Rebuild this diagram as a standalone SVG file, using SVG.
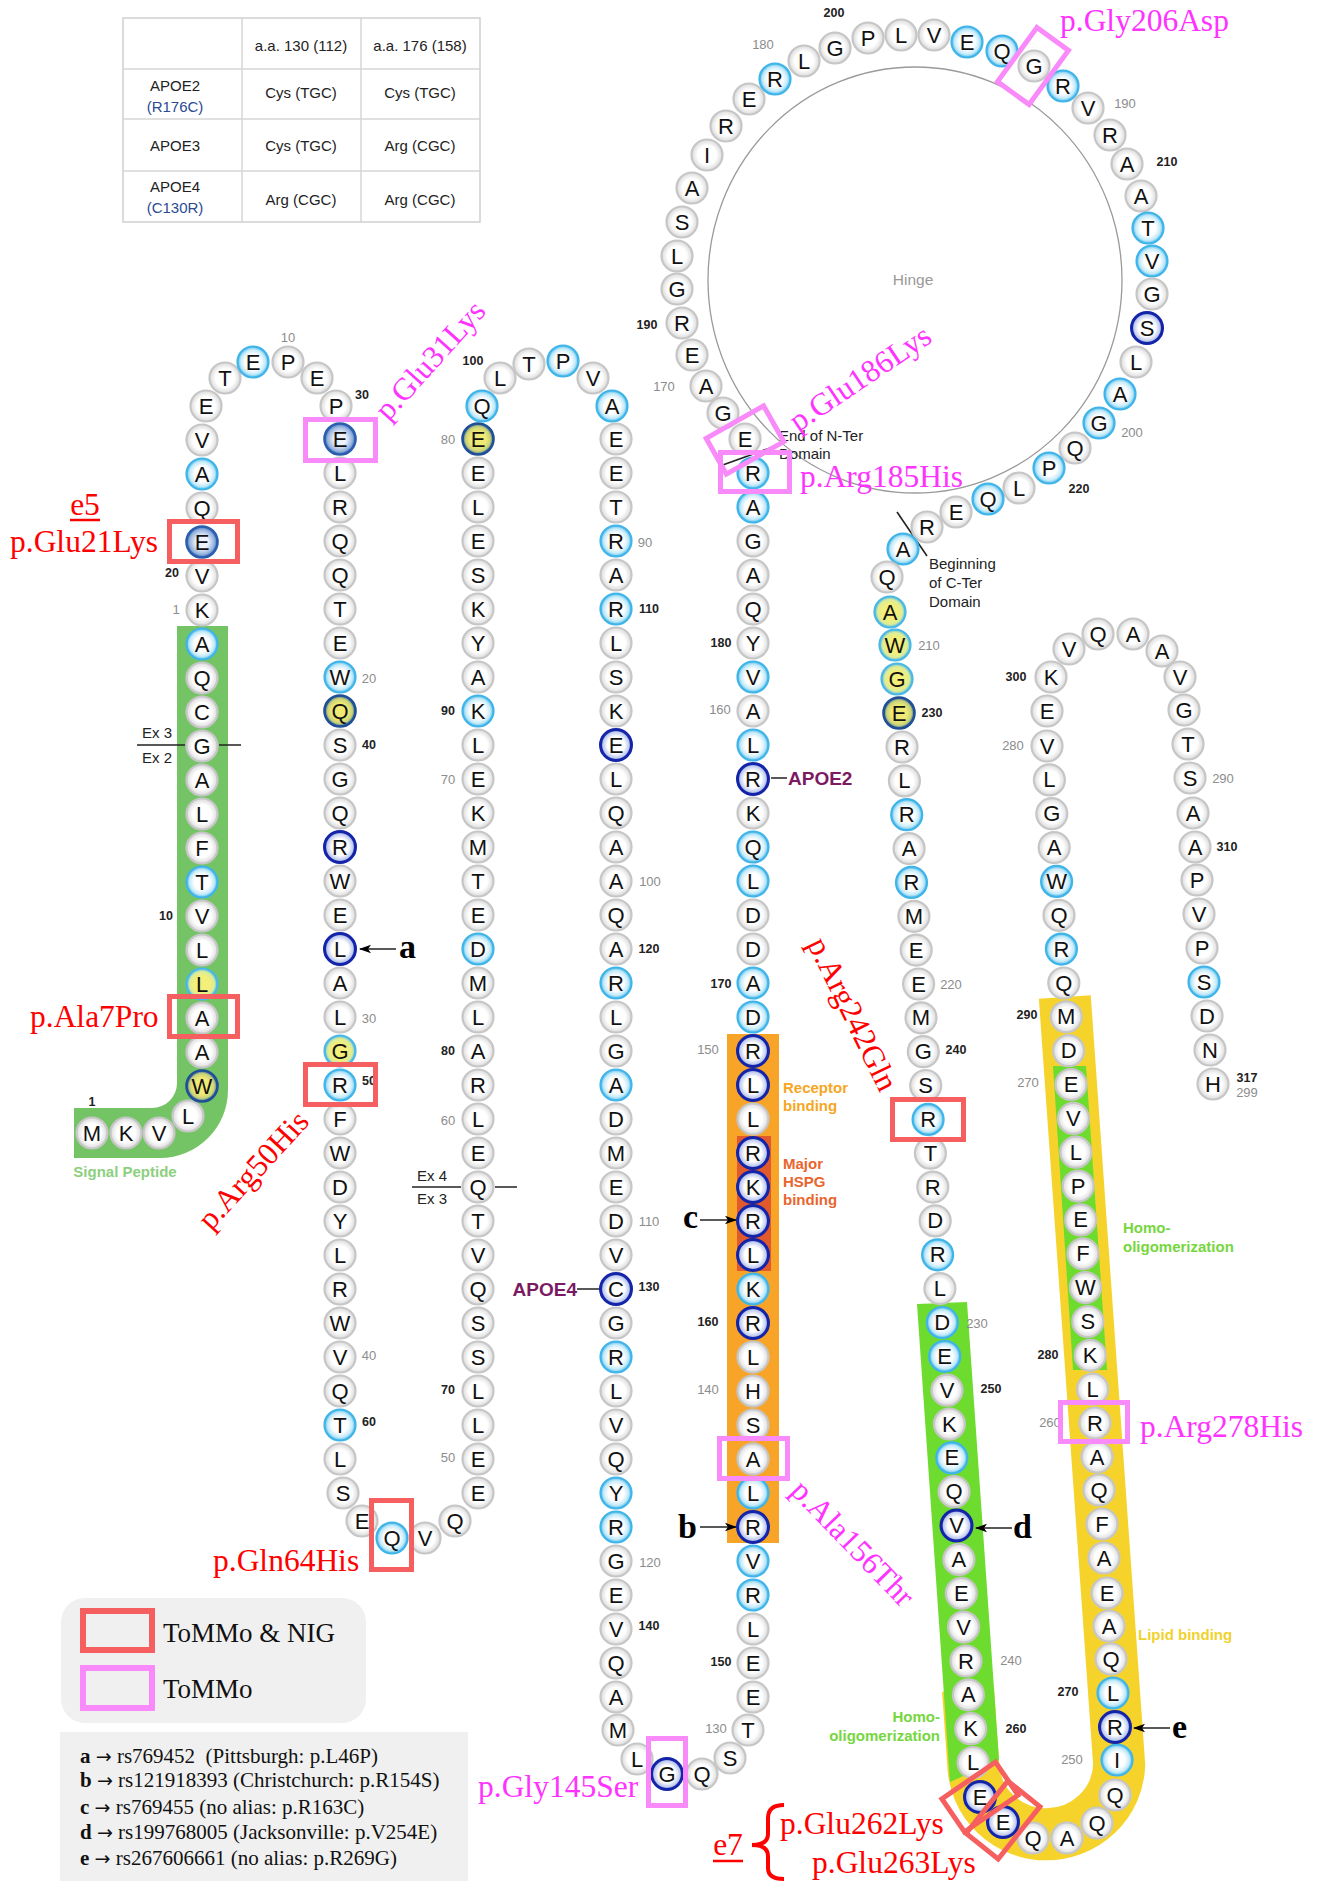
<svg xmlns="http://www.w3.org/2000/svg" width="1321" height="1881" viewBox="0 0 1321 1881">
<defs>
<radialGradient id="gw"><stop offset="0.6" stop-color="#fff"/><stop offset="1" stop-color="#dadada"/></radialGradient>
<radialGradient id="gl"><stop offset="0.5" stop-color="#fff"/><stop offset="0.8" stop-color="#c4eaf9"/><stop offset="1" stop-color="#4ebbea"/></radialGradient>
<radialGradient id="gd"><stop offset="0.55" stop-color="#fff"/><stop offset="0.85" stop-color="#bcc8ee"/><stop offset="1" stop-color="#3a4fc0"/></radialGradient>
<radialGradient id="gm"><stop offset="0.4" stop-color="#eef2fa"/><stop offset="0.8" stop-color="#93b2de"/><stop offset="1" stop-color="#3a6cb8"/></radialGradient>
<radialGradient id="gy"><stop offset="0.5" stop-color="#f3ef78"/><stop offset="0.8" stop-color="#dcec98"/><stop offset="1" stop-color="#4ebbea"/></radialGradient>
<radialGradient id="gz"><stop offset="0.5" stop-color="#f0ea74"/><stop offset="0.8" stop-color="#c8d27a"/><stop offset="1" stop-color="#2d5a9e"/></radialGradient>
<marker id="ar" viewBox="0 0 12 10" refX="11" refY="5" markerWidth="12" markerHeight="10" markerUnits="userSpaceOnUse" orient="auto"><path d="M0,0.8 L12,5 L0,9.2 L3,5Z" fill="#000"/></marker>
</defs>
<style>
.w{fill:url(#gw);stroke:#c6c6c6;stroke-width:2.2}
.l{fill:url(#gl);stroke:#3fb4e8;stroke-width:2.2}
.d{fill:url(#gd);stroke:#1424a8;stroke-width:3}
.m{fill:url(#gm);stroke:#2b5fae;stroke-width:2.6}
.y{fill:url(#gy);stroke:#4ab8e6;stroke-width:2.2}
.z{fill:url(#gz);stroke:#1f4f96;stroke-width:2.6}
.n text{font-family:"Liberation Sans",Arial,sans-serif;font-size:22px;fill:#111;text-anchor:middle;dominant-baseline:central}
.nb{font-family:"Liberation Sans",Arial,sans-serif;font-size:12.5px;font-weight:bold;fill:#222;text-anchor:middle;dominant-baseline:central}
.ng{font-family:"Liberation Sans",Arial,sans-serif;font-size:13px;fill:#8c8c8c;text-anchor:middle;dominant-baseline:central}
.tt text{font-family:"Liberation Sans",Arial,sans-serif;font-size:15px;fill:#222;text-anchor:middle;dominant-baseline:central}
.tt .tbl{fill:#2b4a94}
.mr{font-family:"Liberation Serif","Times New Roman",serif;font-size:31.5px;fill:#f00}
.mp{font-family:"Liberation Serif","Times New Roman",serif;font-size:31.5px;fill:#f3f}
.rot{text-anchor:middle;dominant-baseline:central}
.br{fill:none;stroke:#f65f5f;stroke-width:5}
.bp{fill:none;stroke:#f98af9;stroke-width:5}
.sm{font-family:"Liberation Sans",Arial,sans-serif;font-size:15px;fill:#222}
.dl{font-family:"Liberation Sans",Arial,sans-serif;font-size:15px;font-weight:bold}
.ab{font-family:"Liberation Serif","Times New Roman",serif;font-size:34px;font-weight:bold;fill:#000}
.cn{stroke:#222;stroke-width:1.6;fill:none}
.ap{font-family:"Liberation Sans",Arial,sans-serif;font-size:19px;font-weight:bold;fill:#7b1a63}
.nt{font-family:"Liberation Serif","Times New Roman",serif;font-size:21px;fill:#111}
.nt .arw{font-family:"DejaVu Sans",sans-serif;font-size:19px}
</style>
<rect width="1321" height="1881" fill="#fff"/>
<g id="table" class="tt">
<rect x="123" y="18" width="357" height="204" fill="#fff" stroke="#cfcfcf" stroke-width="1.5"/>
<path d="M123,69H480M123,119H480M123,171H480M242,18V222M361,18V222" stroke="#d6d6d6" stroke-width="1.5"/>
<text x="301" y="45">a.a. 130 (112)</text>
<text x="420" y="45">a.a. 176 (158)</text>
<text x="175" y="85">APOE2</text>
<text x="175" y="106" class="tbl">(R176C)</text>
<text x="301" y="92">Cys (TGC)</text>
<text x="420" y="92">Cys (TGC)</text>
<text x="175" y="145">APOE3</text>
<text x="301" y="145">Cys (TGC)</text>
<text x="420" y="145">Arg (CGC)</text>
<text x="175" y="186">APOE4</text>
<text x="175" y="207" class="tbl">(C130R)</text>
<text x="301" y="199">Arg (CGC)</text>
<text x="420" y="199">Arg (CGC)</text>
</g>
<g id="regions">
<path d="M177,626 H228 V1090 A68,68 0 0 1 160,1158 H74 V1108 H152 A25,25 0 0 0 177,1083 Z" fill="#74c466"/>
<rect x="727" y="1034" width="52" height="509" fill="#f7a428"/>
<rect x="737" y="1136" width="34" height="135" fill="#e25a2c"/>
<path d="M1064.8,997 L1119.2,1765 A73,72 0 0 1 973.3,1765 L968,1690" fill="none" stroke="#f6d32b" stroke-width="52"/>
<polygon points="917,1304 967,1302 999,1760 950,1782" fill="#6ddc2e"/>
<polygon points="1053,1066 1086,1066 1107,1370 1073,1370" fill="#6ddc2e"/>
<text x="125" y="1177" class="dl" fill="#8ccf7e" text-anchor="middle">Signal Peptide</text>
<text x="783" y="1093" class="dl" fill="#f6a623">Receptor</text>
<text x="783" y="1111" class="dl" fill="#f6a623">binding</text>
<text x="783" y="1169" class="dl" fill="#e8652e">Major</text>
<text x="783" y="1187" class="dl" fill="#e8652e">HSPG</text>
<text x="783" y="1205" class="dl" fill="#e8652e">binding</text>
<text x="1123" y="1233" class="dl" fill="#76d63e">Homo-</text>
<text x="1123" y="1252" class="dl" fill="#76d63e">oligomerization</text>
<text x="940" y="1722" class="dl" fill="#76d63e" text-anchor="end">Homo-</text>
<text x="940" y="1741" class="dl" fill="#76d63e" text-anchor="end">oligomerization</text>
<text x="1138" y="1640" class="dl" fill="#f0d22e">Lipid binding</text>
</g>
<g id="hinge">
<ellipse cx="915" cy="280" rx="207" ry="213" fill="none" stroke="#9a9a9a" stroke-width="1.3"/>
<text x="913" y="279" font-family="Liberation Sans, Arial, sans-serif" font-size="15.5" fill="#999" text-anchor="middle" dominant-baseline="central">Hinge</text>
</g>
<g id="connectors">
<path class="cn" d="M137,745H185M219,745H241"/>
<path class="cn" d="M412,1187H461M495,1187H517"/>
<path class="cn" d="M771,778H787M577,1289H600"/>
<path class="cn" d="M720,466L770,448"/>
<path class="cn" d="M897,512L927,556"/>
<line class="cn" x1="396" y1="949" x2="360" y2="949" marker-end="url(#ar)"/>
<line class="cn" x1="700" y1="1220" x2="736" y2="1220" marker-end="url(#ar)"/>
<line class="cn" x1="700" y1="1527" x2="736" y2="1527" marker-end="url(#ar)"/>
<line class="cn" x1="1012" y1="1528" x2="976" y2="1528" marker-end="url(#ar)"/>
<line class="cn" x1="1170" y1="1728" x2="1134" y2="1728" marker-end="url(#ar)"/>
</g>
<g id="nodes" class="n">
<g id="s1"><circle class="w" cx="92" cy="1133" r="15.5"/><text x="92" y="1133">M</text></g>
<g id="s2"><circle class="w" cx="126" cy="1133" r="15.5"/><text x="126" y="1133">K</text></g>
<g id="s3"><circle class="w" cx="159" cy="1133" r="15.5"/><text x="159" y="1133">V</text></g>
<g id="s4"><circle class="w" cx="188" cy="1116" r="15.5"/><text x="188" y="1116">L</text></g>
<g id="s5"><circle class="z" cx="202" cy="1086" r="15.5"/><text x="202" y="1086">W</text></g>
<g id="s6"><circle class="w" cx="202" cy="1052" r="15.5"/><text x="202" y="1052">A</text></g>
<g id="s7"><circle class="w" cx="202" cy="1018" r="15.5"/><text x="202" y="1018">A</text></g>
<g id="s8"><circle class="y" cx="202" cy="984" r="15.5"/><text x="202" y="984">L</text></g>
<g id="s9"><circle class="w" cx="202" cy="950" r="15.5"/><text x="202" y="950">L</text></g>
<g id="s10"><circle class="w" cx="202" cy="916" r="15.5"/><text x="202" y="916">V</text></g>
<g id="s11"><circle class="l" cx="202" cy="882" r="15.5"/><text x="202" y="882">T</text></g>
<g id="s12"><circle class="w" cx="202" cy="848" r="15.5"/><text x="202" y="848">F</text></g>
<g id="s13"><circle class="w" cx="202" cy="814" r="15.5"/><text x="202" y="814">L</text></g>
<g id="s14"><circle class="w" cx="202" cy="780" r="15.5"/><text x="202" y="780">A</text></g>
<g id="s15"><circle class="w" cx="202" cy="746" r="15.5"/><text x="202" y="746">G</text></g>
<g id="s16"><circle class="w" cx="202" cy="712" r="15.5"/><text x="202" y="712">C</text></g>
<g id="s17"><circle class="w" cx="202" cy="678" r="15.5"/><text x="202" y="678">Q</text></g>
<g id="s18"><circle class="l" cx="202" cy="644" r="15.5"/><text x="202" y="644">A</text></g>
<g id="n1"><circle class="w" cx="202" cy="610" r="15.5"/><text x="202" y="610">K</text></g>
<g id="n2"><circle class="w" cx="202" cy="576" r="15.5"/><text x="202" y="576">V</text></g>
<g id="n3"><circle class="m" cx="202" cy="542" r="15.5"/><text x="202" y="542">E</text></g>
<g id="n4"><circle class="w" cx="202" cy="508" r="15.5"/><text x="202" y="508">Q</text></g>
<g id="n5"><circle class="l" cx="202" cy="474" r="15.5"/><text x="202" y="474">A</text></g>
<g id="n6"><circle class="w" cx="202" cy="440" r="15.5"/><text x="202" y="440">V</text></g>
<g id="n7"><circle class="w" cx="206" cy="406" r="15.5"/><text x="206" y="406">E</text></g>
<g id="n8"><circle class="w" cx="225" cy="378" r="15.5"/><text x="225" y="378">T</text></g>
<g id="n9"><circle class="l" cx="253" cy="362" r="15.5"/><text x="253" y="362">E</text></g>
<g id="n10"><circle class="w" cx="288" cy="362" r="15.5"/><text x="288" y="362">P</text></g>
<g id="n11"><circle class="w" cx="317" cy="378" r="15.5"/><text x="317" y="378">E</text></g>
<g id="n12"><circle class="w" cx="336" cy="406" r="15.5"/><text x="336" y="406">P</text></g>
<g id="n13"><circle class="m" cx="340" cy="439" r="15.5"/><text x="340" y="439">E</text></g>
<g id="n14"><circle class="w" cx="340" cy="473" r="15.5"/><text x="340" y="473">L</text></g>
<g id="n15"><circle class="w" cx="340" cy="507" r="15.5"/><text x="340" y="507">R</text></g>
<g id="n16"><circle class="w" cx="340" cy="541" r="15.5"/><text x="340" y="541">Q</text></g>
<g id="n17"><circle class="w" cx="340" cy="575" r="15.5"/><text x="340" y="575">Q</text></g>
<g id="n18"><circle class="w" cx="340" cy="609" r="15.5"/><text x="340" y="609">T</text></g>
<g id="n19"><circle class="w" cx="340" cy="643" r="15.5"/><text x="340" y="643">E</text></g>
<g id="n20"><circle class="l" cx="340" cy="677" r="15.5"/><text x="340" y="677">W</text></g>
<g id="n21"><circle class="z" cx="340" cy="711" r="15.5"/><text x="340" y="711">Q</text></g>
<g id="n22"><circle class="w" cx="340" cy="745" r="15.5"/><text x="340" y="745">S</text></g>
<g id="n23"><circle class="w" cx="340" cy="779" r="15.5"/><text x="340" y="779">G</text></g>
<g id="n24"><circle class="w" cx="340" cy="813" r="15.5"/><text x="340" y="813">Q</text></g>
<g id="n25"><circle class="d" cx="340" cy="847" r="15.5"/><text x="340" y="847">R</text></g>
<g id="n26"><circle class="w" cx="340" cy="881" r="15.5"/><text x="340" y="881">W</text></g>
<g id="n27"><circle class="w" cx="340" cy="915" r="15.5"/><text x="340" y="915">E</text></g>
<g id="n28"><circle class="d" cx="340" cy="949" r="15.5"/><text x="340" y="949">L</text></g>
<g id="n29"><circle class="w" cx="340" cy="983" r="15.5"/><text x="340" y="983">A</text></g>
<g id="n30"><circle class="w" cx="340" cy="1017" r="15.5"/><text x="340" y="1017">L</text></g>
<g id="n31"><circle class="y" cx="340" cy="1051" r="15.5"/><text x="340" y="1051">G</text></g>
<g id="n32"><circle class="l" cx="340" cy="1085" r="15.5"/><text x="340" y="1085">R</text></g>
<g id="n33"><circle class="w" cx="340" cy="1119" r="15.5"/><text x="340" y="1119">F</text></g>
<g id="n34"><circle class="w" cx="340" cy="1153" r="15.5"/><text x="340" y="1153">W</text></g>
<g id="n35"><circle class="w" cx="340" cy="1187" r="15.5"/><text x="340" y="1187">D</text></g>
<g id="n36"><circle class="w" cx="340" cy="1221" r="15.5"/><text x="340" y="1221">Y</text></g>
<g id="n37"><circle class="w" cx="340" cy="1255" r="15.5"/><text x="340" y="1255">L</text></g>
<g id="n38"><circle class="w" cx="340" cy="1289" r="15.5"/><text x="340" y="1289">R</text></g>
<g id="n39"><circle class="w" cx="340" cy="1323" r="15.5"/><text x="340" y="1323">W</text></g>
<g id="n40"><circle class="w" cx="340" cy="1357" r="15.5"/><text x="340" y="1357">V</text></g>
<g id="n41"><circle class="w" cx="340" cy="1391" r="15.5"/><text x="340" y="1391">Q</text></g>
<g id="n42"><circle class="l" cx="340" cy="1425" r="15.5"/><text x="340" y="1425">T</text></g>
<g id="n43"><circle class="w" cx="340" cy="1459" r="15.5"/><text x="340" y="1459">L</text></g>
<g id="n44"><circle class="w" cx="343" cy="1493" r="15.5"/><text x="343" y="1493">S</text></g>
<g id="n45"><circle class="w" cx="362" cy="1521" r="15.5"/><text x="362" y="1521">E</text></g>
<g id="n46"><circle class="l" cx="392" cy="1538" r="15.5"/><text x="392" y="1538">Q</text></g>
<g id="n47"><circle class="w" cx="425" cy="1538" r="15.5"/><text x="425" y="1538">V</text></g>
<g id="n48"><circle class="w" cx="455" cy="1521" r="15.5"/><text x="455" y="1521">Q</text></g>
<g id="n49"><circle class="w" cx="478" cy="1493" r="15.5"/><text x="478" y="1493">E</text></g>
<g id="n50"><circle class="w" cx="478" cy="1459" r="15.5"/><text x="478" y="1459">E</text></g>
<g id="n51"><circle class="w" cx="478" cy="1425" r="15.5"/><text x="478" y="1425">L</text></g>
<g id="n52"><circle class="w" cx="478" cy="1391" r="15.5"/><text x="478" y="1391">L</text></g>
<g id="n53"><circle class="w" cx="478" cy="1357" r="15.5"/><text x="478" y="1357">S</text></g>
<g id="n54"><circle class="w" cx="478" cy="1323" r="15.5"/><text x="478" y="1323">S</text></g>
<g id="n55"><circle class="w" cx="478" cy="1289" r="15.5"/><text x="478" y="1289">Q</text></g>
<g id="n56"><circle class="w" cx="478" cy="1255" r="15.5"/><text x="478" y="1255">V</text></g>
<g id="n57"><circle class="w" cx="478" cy="1221" r="15.5"/><text x="478" y="1221">T</text></g>
<g id="n58"><circle class="w" cx="478" cy="1187" r="15.5"/><text x="478" y="1187">Q</text></g>
<g id="n59"><circle class="w" cx="478" cy="1153" r="15.5"/><text x="478" y="1153">E</text></g>
<g id="n60"><circle class="w" cx="478" cy="1119" r="15.5"/><text x="478" y="1119">L</text></g>
<g id="n61"><circle class="w" cx="478" cy="1085" r="15.5"/><text x="478" y="1085">R</text></g>
<g id="n62"><circle class="w" cx="478" cy="1051" r="15.5"/><text x="478" y="1051">A</text></g>
<g id="n63"><circle class="w" cx="478" cy="1017" r="15.5"/><text x="478" y="1017">L</text></g>
<g id="n64"><circle class="w" cx="478" cy="983" r="15.5"/><text x="478" y="983">M</text></g>
<g id="n65"><circle class="l" cx="478" cy="949" r="15.5"/><text x="478" y="949">D</text></g>
<g id="n66"><circle class="w" cx="478" cy="915" r="15.5"/><text x="478" y="915">E</text></g>
<g id="n67"><circle class="w" cx="478" cy="881" r="15.5"/><text x="478" y="881">T</text></g>
<g id="n68"><circle class="w" cx="478" cy="847" r="15.5"/><text x="478" y="847">M</text></g>
<g id="n69"><circle class="w" cx="478" cy="813" r="15.5"/><text x="478" y="813">K</text></g>
<g id="n70"><circle class="w" cx="478" cy="779" r="15.5"/><text x="478" y="779">E</text></g>
<g id="n71"><circle class="w" cx="478" cy="745" r="15.5"/><text x="478" y="745">L</text></g>
<g id="n72"><circle class="l" cx="478" cy="711" r="15.5"/><text x="478" y="711">K</text></g>
<g id="n73"><circle class="w" cx="478" cy="677" r="15.5"/><text x="478" y="677">A</text></g>
<g id="n74"><circle class="w" cx="478" cy="643" r="15.5"/><text x="478" y="643">Y</text></g>
<g id="n75"><circle class="w" cx="478" cy="609" r="15.5"/><text x="478" y="609">K</text></g>
<g id="n76"><circle class="w" cx="478" cy="575" r="15.5"/><text x="478" y="575">S</text></g>
<g id="n77"><circle class="w" cx="478" cy="541" r="15.5"/><text x="478" y="541">E</text></g>
<g id="n78"><circle class="w" cx="478" cy="507" r="15.5"/><text x="478" y="507">L</text></g>
<g id="n79"><circle class="w" cx="478" cy="473" r="15.5"/><text x="478" y="473">E</text></g>
<g id="n80"><circle class="z" cx="478" cy="439" r="15.5"/><text x="478" y="439">E</text></g>
<g id="n81"><circle class="l" cx="482" cy="406" r="15.5"/><text x="482" y="406">Q</text></g>
<g id="n82"><circle class="w" cx="500" cy="378" r="15.5"/><text x="500" y="378">L</text></g>
<g id="n83"><circle class="w" cx="529" cy="364" r="15.5"/><text x="529" y="364">T</text></g>
<g id="n84"><circle class="l" cx="563" cy="361" r="15.5"/><text x="563" y="361">P</text></g>
<g id="n85"><circle class="w" cx="593" cy="378" r="15.5"/><text x="593" y="378">V</text></g>
<g id="n86"><circle class="l" cx="612" cy="406" r="15.5"/><text x="612" y="406">A</text></g>
<g id="n87"><circle class="w" cx="616" cy="439" r="15.5"/><text x="616" y="439">E</text></g>
<g id="n88"><circle class="w" cx="616" cy="473" r="15.5"/><text x="616" y="473">E</text></g>
<g id="n89"><circle class="w" cx="616" cy="507" r="15.5"/><text x="616" y="507">T</text></g>
<g id="n90"><circle class="l" cx="616" cy="541" r="15.5"/><text x="616" y="541">R</text></g>
<g id="n91"><circle class="w" cx="616" cy="575" r="15.5"/><text x="616" y="575">A</text></g>
<g id="n92"><circle class="l" cx="616" cy="609" r="15.5"/><text x="616" y="609">R</text></g>
<g id="n93"><circle class="w" cx="616" cy="643" r="15.5"/><text x="616" y="643">L</text></g>
<g id="n94"><circle class="w" cx="616" cy="677" r="15.5"/><text x="616" y="677">S</text></g>
<g id="n95"><circle class="w" cx="616" cy="711" r="15.5"/><text x="616" y="711">K</text></g>
<g id="n96"><circle class="d" cx="616" cy="745" r="15.5"/><text x="616" y="745">E</text></g>
<g id="n97"><circle class="w" cx="616" cy="779" r="15.5"/><text x="616" y="779">L</text></g>
<g id="n98"><circle class="w" cx="616" cy="813" r="15.5"/><text x="616" y="813">Q</text></g>
<g id="n99"><circle class="w" cx="616" cy="847" r="15.5"/><text x="616" y="847">A</text></g>
<g id="n100"><circle class="w" cx="616" cy="881" r="15.5"/><text x="616" y="881">A</text></g>
<g id="n101"><circle class="w" cx="616" cy="915" r="15.5"/><text x="616" y="915">Q</text></g>
<g id="n102"><circle class="w" cx="616" cy="949" r="15.5"/><text x="616" y="949">A</text></g>
<g id="n103"><circle class="l" cx="616" cy="983" r="15.5"/><text x="616" y="983">R</text></g>
<g id="n104"><circle class="w" cx="616" cy="1017" r="15.5"/><text x="616" y="1017">L</text></g>
<g id="n105"><circle class="w" cx="616" cy="1051" r="15.5"/><text x="616" y="1051">G</text></g>
<g id="n106"><circle class="l" cx="616" cy="1085" r="15.5"/><text x="616" y="1085">A</text></g>
<g id="n107"><circle class="w" cx="616" cy="1119" r="15.5"/><text x="616" y="1119">D</text></g>
<g id="n108"><circle class="w" cx="616" cy="1153" r="15.5"/><text x="616" y="1153">M</text></g>
<g id="n109"><circle class="w" cx="616" cy="1187" r="15.5"/><text x="616" y="1187">E</text></g>
<g id="n110"><circle class="w" cx="616" cy="1221" r="15.5"/><text x="616" y="1221">D</text></g>
<g id="n111"><circle class="w" cx="616" cy="1255" r="15.5"/><text x="616" y="1255">V</text></g>
<g id="n112"><circle class="d" cx="616" cy="1289" r="15.5"/><text x="616" y="1289">C</text></g>
<g id="n113"><circle class="w" cx="616" cy="1323" r="15.5"/><text x="616" y="1323">G</text></g>
<g id="n114"><circle class="l" cx="616" cy="1357" r="15.5"/><text x="616" y="1357">R</text></g>
<g id="n115"><circle class="w" cx="616" cy="1391" r="15.5"/><text x="616" y="1391">L</text></g>
<g id="n116"><circle class="w" cx="616" cy="1425" r="15.5"/><text x="616" y="1425">V</text></g>
<g id="n117"><circle class="w" cx="616" cy="1459" r="15.5"/><text x="616" y="1459">Q</text></g>
<g id="n118"><circle class="l" cx="616" cy="1493" r="15.5"/><text x="616" y="1493">Y</text></g>
<g id="n119"><circle class="l" cx="616" cy="1527" r="15.5"/><text x="616" y="1527">R</text></g>
<g id="n120"><circle class="w" cx="616" cy="1561" r="15.5"/><text x="616" y="1561">G</text></g>
<g id="n121"><circle class="w" cx="616" cy="1595" r="15.5"/><text x="616" y="1595">E</text></g>
<g id="n122"><circle class="w" cx="616" cy="1629" r="15.5"/><text x="616" y="1629">V</text></g>
<g id="n123"><circle class="w" cx="616" cy="1663" r="15.5"/><text x="616" y="1663">Q</text></g>
<g id="n124"><circle class="w" cx="616" cy="1697" r="15.5"/><text x="616" y="1697">A</text></g>
<g id="n125"><circle class="w" cx="618" cy="1730" r="15.5"/><text x="618" y="1730">M</text></g>
<g id="n126"><circle class="w" cx="637" cy="1759" r="15.5"/><text x="637" y="1759">L</text></g>
<g id="n127"><circle class="d" cx="667" cy="1774" r="15.5"/><text x="667" y="1774">G</text></g>
<g id="n128"><circle class="w" cx="702" cy="1774" r="15.5"/><text x="702" y="1774">Q</text></g>
<g id="n129"><circle class="w" cx="730" cy="1758" r="15.5"/><text x="730" y="1758">S</text></g>
<g id="n130"><circle class="w" cx="748" cy="1730" r="15.5"/><text x="748" y="1730">T</text></g>
<g id="n131"><circle class="w" cx="753" cy="1697" r="15.5"/><text x="753" y="1697">E</text></g>
<g id="n132"><circle class="w" cx="753" cy="1663" r="15.5"/><text x="753" y="1663">E</text></g>
<g id="n133"><circle class="w" cx="753" cy="1629" r="15.5"/><text x="753" y="1629">L</text></g>
<g id="n134"><circle class="l" cx="753" cy="1595" r="15.5"/><text x="753" y="1595">R</text></g>
<g id="n135"><circle class="l" cx="753" cy="1561" r="15.5"/><text x="753" y="1561">V</text></g>
<g id="n136"><circle class="d" cx="753" cy="1527" r="15.5"/><text x="753" y="1527">R</text></g>
<g id="n137"><circle class="l" cx="753" cy="1493" r="15.5"/><text x="753" y="1493">L</text></g>
<g id="n138"><circle class="w" cx="753" cy="1459" r="15.5"/><text x="753" y="1459">A</text></g>
<g id="n139"><circle class="w" cx="753" cy="1425" r="15.5"/><text x="753" y="1425">S</text></g>
<g id="n140"><circle class="w" cx="753" cy="1391" r="15.5"/><text x="753" y="1391">H</text></g>
<g id="n141"><circle class="w" cx="753" cy="1357" r="15.5"/><text x="753" y="1357">L</text></g>
<g id="n142"><circle class="d" cx="753" cy="1323" r="15.5"/><text x="753" y="1323">R</text></g>
<g id="n143"><circle class="l" cx="753" cy="1289" r="15.5"/><text x="753" y="1289">K</text></g>
<g id="n144"><circle class="d" cx="753" cy="1255" r="15.5"/><text x="753" y="1255">L</text></g>
<g id="n145"><circle class="d" cx="753" cy="1221" r="15.5"/><text x="753" y="1221">R</text></g>
<g id="n146"><circle class="d" cx="753" cy="1187" r="15.5"/><text x="753" y="1187">K</text></g>
<g id="n147"><circle class="d" cx="753" cy="1153" r="15.5"/><text x="753" y="1153">R</text></g>
<g id="n148"><circle class="w" cx="753" cy="1119" r="15.5"/><text x="753" y="1119">L</text></g>
<g id="n149"><circle class="d" cx="753" cy="1085" r="15.5"/><text x="753" y="1085">L</text></g>
<g id="n150"><circle class="d" cx="753" cy="1051" r="15.5"/><text x="753" y="1051">R</text></g>
<g id="n151"><circle class="l" cx="753" cy="1017" r="15.5"/><text x="753" y="1017">D</text></g>
<g id="n152"><circle class="l" cx="753" cy="983" r="15.5"/><text x="753" y="983">A</text></g>
<g id="n153"><circle class="w" cx="753" cy="949" r="15.5"/><text x="753" y="949">D</text></g>
<g id="n154"><circle class="w" cx="753" cy="915" r="15.5"/><text x="753" y="915">D</text></g>
<g id="n155"><circle class="l" cx="753" cy="881" r="15.5"/><text x="753" y="881">L</text></g>
<g id="n156"><circle class="l" cx="753" cy="847" r="15.5"/><text x="753" y="847">Q</text></g>
<g id="n157"><circle class="w" cx="753" cy="813" r="15.5"/><text x="753" y="813">K</text></g>
<g id="n158"><circle class="d" cx="753" cy="779" r="15.5"/><text x="753" y="779">R</text></g>
<g id="n159"><circle class="l" cx="753" cy="745" r="15.5"/><text x="753" y="745">L</text></g>
<g id="n160"><circle class="w" cx="753" cy="711" r="15.5"/><text x="753" y="711">A</text></g>
<g id="n161"><circle class="l" cx="753" cy="677" r="15.5"/><text x="753" y="677">V</text></g>
<g id="n162"><circle class="w" cx="753" cy="643" r="15.5"/><text x="753" y="643">Y</text></g>
<g id="n163"><circle class="w" cx="753" cy="609" r="15.5"/><text x="753" y="609">Q</text></g>
<g id="n164"><circle class="w" cx="753" cy="575" r="15.5"/><text x="753" y="575">A</text></g>
<g id="n165"><circle class="w" cx="753" cy="541" r="15.5"/><text x="753" y="541">G</text></g>
<g id="n166"><circle class="l" cx="753" cy="507" r="15.5"/><text x="753" y="507">A</text></g>
<g id="n167"><circle class="l" cx="753" cy="473" r="15.5"/><text x="753" y="473">R</text></g>
<g id="n168"><circle class="w" cx="745" cy="439" r="15.5"/><text x="745" y="439">E</text></g>
<g id="n169"><circle class="w" cx="723" cy="413" r="15.5"/><text x="723" y="413">G</text></g>
<g id="n170"><circle class="w" cx="706" cy="386" r="15.5"/><text x="706" y="386">A</text></g>
<g id="n171"><circle class="w" cx="692" cy="355" r="15.5"/><text x="692" y="355">E</text></g>
<g id="n172"><circle class="w" cx="682" cy="323" r="15.5"/><text x="682" y="323">R</text></g>
<g id="n173"><circle class="w" cx="677" cy="289" r="15.5"/><text x="677" y="289">G</text></g>
<g id="n174"><circle class="w" cx="677" cy="256" r="15.5"/><text x="677" y="256">L</text></g>
<g id="n175"><circle class="w" cx="682" cy="222" r="15.5"/><text x="682" y="222">S</text></g>
<g id="n176"><circle class="w" cx="692" cy="188" r="15.5"/><text x="692" y="188">A</text></g>
<g id="n177"><circle class="w" cx="707" cy="155" r="15.5"/><text x="707" y="155">I</text></g>
<g id="n178"><circle class="w" cx="726" cy="126" r="15.5"/><text x="726" y="126">R</text></g>
<g id="n179"><circle class="w" cx="749" cy="99" r="15.5"/><text x="749" y="99">E</text></g>
<g id="n180"><circle class="l" cx="775" cy="79" r="15.5"/><text x="775" y="79">R</text></g>
<g id="n181"><circle class="w" cx="804" cy="61" r="15.5"/><text x="804" y="61">L</text></g>
<g id="n182"><circle class="w" cx="835" cy="48" r="15.5"/><text x="835" y="48">G</text></g>
<g id="n183"><circle class="w" cx="868" cy="38" r="15.5"/><text x="868" y="38">P</text></g>
<g id="n184"><circle class="w" cx="901" cy="35" r="15.5"/><text x="901" y="35">L</text></g>
<g id="n185"><circle class="w" cx="934" cy="35" r="15.5"/><text x="934" y="35">V</text></g>
<g id="n186"><circle class="l" cx="967" cy="42" r="15.5"/><text x="967" y="42">E</text></g>
<g id="n187"><circle class="l" cx="1002" cy="51" r="15.5"/><text x="1002" y="51">Q</text></g>
<g id="n188"><circle class="w" cx="1034" cy="66" r="15.5"/><text x="1034" y="66">G</text></g>
<g id="n189"><circle class="l" cx="1063" cy="86" r="15.5"/><text x="1063" y="86">R</text></g>
<g id="n190"><circle class="w" cx="1088" cy="108" r="15.5"/><text x="1088" y="108">V</text></g>
<g id="n191"><circle class="w" cx="1110" cy="135" r="15.5"/><text x="1110" y="135">R</text></g>
<g id="n192"><circle class="w" cx="1127" cy="164" r="15.5"/><text x="1127" y="164">A</text></g>
<g id="n193"><circle class="w" cx="1141" cy="196" r="15.5"/><text x="1141" y="196">A</text></g>
<g id="n194"><circle class="l" cx="1148" cy="228" r="15.5"/><text x="1148" y="228">T</text></g>
<g id="n195"><circle class="l" cx="1152" cy="261" r="15.5"/><text x="1152" y="261">V</text></g>
<g id="n196"><circle class="w" cx="1152" cy="294" r="15.5"/><text x="1152" y="294">G</text></g>
<g id="n197"><circle class="d" cx="1147" cy="328" r="15.5"/><text x="1147" y="328">S</text></g>
<g id="n198"><circle class="w" cx="1136" cy="362" r="15.5"/><text x="1136" y="362">L</text></g>
<g id="n199"><circle class="l" cx="1120" cy="394" r="15.5"/><text x="1120" y="394">A</text></g>
<g id="n200"><circle class="l" cx="1099" cy="423" r="15.5"/><text x="1099" y="423">G</text></g>
<g id="n201"><circle class="w" cx="1075" cy="448" r="15.5"/><text x="1075" y="448">Q</text></g>
<g id="n202"><circle class="l" cx="1049" cy="468" r="15.5"/><text x="1049" y="468">P</text></g>
<g id="n203"><circle class="w" cx="1019" cy="488" r="15.5"/><text x="1019" y="488">L</text></g>
<g id="n204"><circle class="l" cx="988" cy="499" r="15.5"/><text x="988" y="499">Q</text></g>
<g id="n205"><circle class="w" cx="956" cy="512" r="15.5"/><text x="956" y="512">E</text></g>
<g id="n206"><circle class="w" cx="927" cy="527" r="15.5"/><text x="927" y="527">R</text></g>
<g id="n207"><circle class="l" cx="903" cy="549" r="15.5"/><text x="903" y="549">A</text></g>
<g id="n208"><circle class="w" cx="887" cy="577" r="15.5"/><text x="887" y="577">Q</text></g>
<g id="n209"><circle class="y" cx="890" cy="612" r="15.5"/><text x="890" y="612">A</text></g>
<g id="n210"><circle class="y" cx="895" cy="645" r="15.5"/><text x="895" y="645">W</text></g>
<g id="n211"><circle class="y" cx="897" cy="679" r="15.5"/><text x="897" y="679">G</text></g>
<g id="n212"><circle class="z" cx="899" cy="713" r="15.5"/><text x="899" y="713">E</text></g>
<g id="n213"><circle class="w" cx="902" cy="747" r="15.5"/><text x="902" y="747">R</text></g>
<g id="n214"><circle class="w" cx="904.4" cy="780.9" r="15.5"/><text x="904.4" y="780.9">L</text></g>
<g id="n215"><circle class="l" cx="906.7" cy="814.7" r="15.5"/><text x="906.7" y="814.7">R</text></g>
<g id="n216"><circle class="w" cx="909.1" cy="848.6" r="15.5"/><text x="909.1" y="848.6">A</text></g>
<g id="n217"><circle class="l" cx="911.5" cy="882.4" r="15.5"/><text x="911.5" y="882.4">R</text></g>
<g id="n218"><circle class="w" cx="913.9" cy="916.3" r="15.5"/><text x="913.9" y="916.3">M</text></g>
<g id="n219"><circle class="w" cx="916.2" cy="950.1" r="15.5"/><text x="916.2" y="950.1">E</text></g>
<g id="n220"><circle class="w" cx="918.6" cy="984" r="15.5"/><text x="918.6" y="984">E</text></g>
<g id="n221"><circle class="w" cx="921" cy="1017.8" r="15.5"/><text x="921" y="1017.8">M</text></g>
<g id="n222"><circle class="w" cx="923.3" cy="1051.7" r="15.5"/><text x="923.3" y="1051.7">G</text></g>
<g id="n223"><circle class="w" cx="925.7" cy="1085.5" r="15.5"/><text x="925.7" y="1085.5">S</text></g>
<g id="n224"><circle class="l" cx="928.1" cy="1119.4" r="15.5"/><text x="928.1" y="1119.4">R</text></g>
<g id="n225"><circle class="w" cx="930.4" cy="1153.2" r="15.5"/><text x="930.4" y="1153.2">T</text></g>
<g id="n226"><circle class="w" cx="932.8" cy="1187.1" r="15.5"/><text x="932.8" y="1187.1">R</text></g>
<g id="n227"><circle class="w" cx="935.2" cy="1220.9" r="15.5"/><text x="935.2" y="1220.9">D</text></g>
<g id="n228"><circle class="l" cx="937.6" cy="1254.8" r="15.5"/><text x="937.6" y="1254.8">R</text></g>
<g id="n229"><circle class="w" cx="939.9" cy="1288.6" r="15.5"/><text x="939.9" y="1288.6">L</text></g>
<g id="n230"><circle class="l" cx="942.3" cy="1322.5" r="15.5"/><text x="942.3" y="1322.5">D</text></g>
<g id="n231"><circle class="l" cx="944.7" cy="1356.3" r="15.5"/><text x="944.7" y="1356.3">E</text></g>
<g id="n232"><circle class="w" cx="947" cy="1390.2" r="15.5"/><text x="947" y="1390.2">V</text></g>
<g id="n233"><circle class="w" cx="949.4" cy="1424" r="15.5"/><text x="949.4" y="1424">K</text></g>
<g id="n234"><circle class="l" cx="951.8" cy="1457.9" r="15.5"/><text x="951.8" y="1457.9">E</text></g>
<g id="n235"><circle class="w" cx="954.1" cy="1491.7" r="15.5"/><text x="954.1" y="1491.7">Q</text></g>
<g id="n236"><circle class="d" cx="956.5" cy="1525.6" r="15.5"/><text x="956.5" y="1525.6">V</text></g>
<g id="n237"><circle class="w" cx="958.9" cy="1559.4" r="15.5"/><text x="958.9" y="1559.4">A</text></g>
<g id="n238"><circle class="w" cx="961.3" cy="1593.3" r="15.5"/><text x="961.3" y="1593.3">E</text></g>
<g id="n239"><circle class="w" cx="963.6" cy="1627.1" r="15.5"/><text x="963.6" y="1627.1">V</text></g>
<g id="n240"><circle class="w" cx="966" cy="1661" r="15.5"/><text x="966" y="1661">R</text></g>
<g id="n241"><circle class="w" cx="968.4" cy="1694.8" r="15.5"/><text x="968.4" y="1694.8">A</text></g>
<g id="n242"><circle class="w" cx="970.7" cy="1728.7" r="15.5"/><text x="970.7" y="1728.7">K</text></g>
<g id="n243"><circle class="w" cx="973.1" cy="1762.5" r="15.5"/><text x="973.1" y="1762.5">L</text></g>
<g id="n244"><circle class="d" cx="980" cy="1797" r="15.5"/><text x="980" y="1797">E</text></g>
<g id="n245"><circle class="d" cx="1003" cy="1822" r="15.5"/><text x="1003" y="1822">E</text></g>
<g id="n246"><circle class="w" cx="1033" cy="1838" r="15.5"/><text x="1033" y="1838">Q</text></g>
<g id="n247"><circle class="w" cx="1067" cy="1838" r="15.5"/><text x="1067" y="1838">A</text></g>
<g id="n248"><circle class="w" cx="1097" cy="1823" r="15.5"/><text x="1097" y="1823">Q</text></g>
<g id="n249"><circle class="w" cx="1115" cy="1795" r="15.5"/><text x="1115" y="1795">Q</text></g>
<g id="n250"><circle class="l" cx="1117" cy="1760" r="15.5"/><text x="1117" y="1760">I</text></g>
<g id="n251"><circle class="d" cx="1115" cy="1727" r="15.5"/><text x="1115" y="1727">R</text></g>
<g id="n252"><circle class="l" cx="1113" cy="1693" r="15.5"/><text x="1113" y="1693">L</text></g>
<g id="n253"><circle class="w" cx="1111" cy="1659" r="15.5"/><text x="1111" y="1659">Q</text></g>
<g id="n254"><circle class="w" cx="1109" cy="1626" r="15.5"/><text x="1109" y="1626">A</text></g>
<g id="n255"><circle class="w" cx="1107" cy="1593" r="15.5"/><text x="1107" y="1593">E</text></g>
<g id="n256"><circle class="w" cx="1104" cy="1558" r="15.5"/><text x="1104" y="1558">A</text></g>
<g id="n257"><circle class="w" cx="1102" cy="1524" r="15.5"/><text x="1102" y="1524">F</text></g>
<g id="n258"><circle class="w" cx="1099" cy="1490" r="15.5"/><text x="1099" y="1490">Q</text></g>
<g id="n259"><circle class="w" cx="1097" cy="1457" r="15.5"/><text x="1097" y="1457">A</text></g>
<g id="n260"><circle class="w" cx="1095" cy="1423" r="15.5"/><text x="1095" y="1423">R</text></g>
<g id="n261"><circle class="w" cx="1092.6" cy="1389.2" r="15.5"/><text x="1092.6" y="1389.2">L</text></g>
<g id="n262"><circle class="w" cx="1090.2" cy="1355.3" r="15.5"/><text x="1090.2" y="1355.3">K</text></g>
<g id="n263"><circle class="w" cx="1087.8" cy="1321.5" r="15.5"/><text x="1087.8" y="1321.5">S</text></g>
<g id="n264"><circle class="w" cx="1085.4" cy="1287.6" r="15.5"/><text x="1085.4" y="1287.6">W</text></g>
<g id="n265"><circle class="w" cx="1083" cy="1253.8" r="15.5"/><text x="1083" y="1253.8">F</text></g>
<g id="n266"><circle class="w" cx="1080.6" cy="1219.9" r="15.5"/><text x="1080.6" y="1219.9">E</text></g>
<g id="n267"><circle class="w" cx="1078.2" cy="1186.1" r="15.5"/><text x="1078.2" y="1186.1">P</text></g>
<g id="n268"><circle class="w" cx="1075.8" cy="1152.2" r="15.5"/><text x="1075.8" y="1152.2">L</text></g>
<g id="n269"><circle class="w" cx="1073.4" cy="1118.4" r="15.5"/><text x="1073.4" y="1118.4">V</text></g>
<g id="n270"><circle class="w" cx="1071" cy="1084.5" r="15.5"/><text x="1071" y="1084.5">E</text></g>
<g id="n271"><circle class="w" cx="1068.6" cy="1050.7" r="15.5"/><text x="1068.6" y="1050.7">D</text></g>
<g id="n272"><circle class="w" cx="1066.2" cy="1016.8" r="15.5"/><text x="1066.2" y="1016.8">M</text></g>
<g id="n273"><circle class="w" cx="1063.8" cy="983" r="15.5"/><text x="1063.8" y="983">Q</text></g>
<g id="n274"><circle class="l" cx="1061.4" cy="949.1" r="15.5"/><text x="1061.4" y="949.1">R</text></g>
<g id="n275"><circle class="w" cx="1059" cy="915.3" r="15.5"/><text x="1059" y="915.3">Q</text></g>
<g id="n276"><circle class="l" cx="1056.6" cy="881.4" r="15.5"/><text x="1056.6" y="881.4">W</text></g>
<g id="n277"><circle class="w" cx="1054.2" cy="847.6" r="15.5"/><text x="1054.2" y="847.6">A</text></g>
<g id="n278"><circle class="w" cx="1051.8" cy="813.7" r="15.5"/><text x="1051.8" y="813.7">G</text></g>
<g id="n279"><circle class="w" cx="1049.4" cy="779.9" r="15.5"/><text x="1049.4" y="779.9">L</text></g>
<g id="n280"><circle class="w" cx="1047" cy="746" r="15.5"/><text x="1047" y="746">V</text></g>
<g id="n281"><circle class="w" cx="1047" cy="711" r="15.5"/><text x="1047" y="711">E</text></g>
<g id="n282"><circle class="w" cx="1051" cy="677" r="15.5"/><text x="1051" y="677">K</text></g>
<g id="n283"><circle class="w" cx="1069" cy="649" r="15.5"/><text x="1069" y="649">V</text></g>
<g id="n284"><circle class="w" cx="1098" cy="634" r="15.5"/><text x="1098" y="634">Q</text></g>
<g id="n285"><circle class="w" cx="1133" cy="634" r="15.5"/><text x="1133" y="634">A</text></g>
<g id="n286"><circle class="w" cx="1162" cy="651" r="15.5"/><text x="1162" y="651">A</text></g>
<g id="n287"><circle class="w" cx="1180" cy="677" r="15.5"/><text x="1180" y="677">V</text></g>
<g id="n288"><circle class="w" cx="1184" cy="710" r="15.5"/><text x="1184" y="710">G</text></g>
<g id="n289"><circle class="w" cx="1188" cy="744" r="15.5"/><text x="1188" y="744">T</text></g>
<g id="n290"><circle class="w" cx="1190" cy="778" r="15.5"/><text x="1190" y="778">S</text></g>
<g id="n291"><circle class="w" cx="1193" cy="813" r="15.5"/><text x="1193" y="813">A</text></g>
<g id="n292"><circle class="w" cx="1195" cy="847" r="15.5"/><text x="1195" y="847">A</text></g>
<g id="n293"><circle class="w" cx="1197" cy="880" r="15.5"/><text x="1197" y="880">P</text></g>
<g id="n294"><circle class="w" cx="1199" cy="914" r="15.5"/><text x="1199" y="914">V</text></g>
<g id="n295"><circle class="w" cx="1202" cy="948" r="15.5"/><text x="1202" y="948">P</text></g>
<g id="n296"><circle class="l" cx="1204" cy="982" r="15.5"/><text x="1204" y="982">S</text></g>
<g id="n297"><circle class="w" cx="1207" cy="1016" r="15.5"/><text x="1207" y="1016">D</text></g>
<g id="n298"><circle class="w" cx="1210" cy="1050" r="15.5"/><text x="1210" y="1050">N</text></g>
<g id="n299"><circle class="w" cx="1213" cy="1084" r="15.5"/><text x="1213" y="1084">H</text></g>
</g>
<g id="numbers">
<text class="nb" x="172" y="573">20</text><text class="ng" x="176" y="609">1</text><text class="nb" x="166" y="916">10</text><text class="nb" x="92" y="1102">1</text>
<text class="ng" x="288" y="337">10</text><text class="nb" x="362" y="395">30</text><text class="ng" x="369" y="678">20</text><text class="nb" x="369" y="745">40</text>
<text class="ng" x="369" y="1018">30</text><text class="nb" x="369" y="1081">50</text><text class="ng" x="369" y="1355">40</text><text class="nb" x="369" y="1422">60</text>
<text class="nb" x="473" y="361">100</text><text class="ng" x="448" y="439">80</text><text class="nb" x="448" y="711">90</text><text class="ng" x="448" y="779">70</text>
<text class="nb" x="448" y="1051">80</text><text class="ng" x="448" y="1120">60</text><text class="nb" x="448" y="1390">70</text><text class="ng" x="448" y="1457">50</text>
<text class="ng" x="645" y="542">90</text><text class="nb" x="649" y="609">110</text><text class="ng" x="650" y="881">100</text><text class="nb" x="649" y="949">120</text>
<text class="ng" x="649" y="1221">110</text><text class="nb" x="649" y="1287">130</text><text class="ng" x="650" y="1562">120</text><text class="nb" x="649" y="1626">140</text>
<text class="nb" x="647" y="325">190</text><text class="ng" x="664" y="386">170</text><text class="nb" x="721" y="643">180</text><text class="ng" x="720" y="709">160</text>
<text class="nb" x="721" y="984">170</text><text class="ng" x="708" y="1049">150</text><text class="nb" x="708" y="1322">160</text><text class="ng" x="708" y="1389">140</text>
<text class="nb" x="721" y="1662">150</text><text class="ng" x="716" y="1728">130</text>
<text class="ng" x="763" y="44">180</text><text class="nb" x="834" y="13">200</text><text class="ng" x="1125" y="103">190</text><text class="nb" x="1167" y="162">210</text>
<text class="ng" x="1132" y="432">200</text><text class="nb" x="1079" y="489">220</text>
<text class="ng" x="929" y="645">210</text><text class="nb" x="932" y="713">230</text><text class="ng" x="951" y="984">220</text><text class="nb" x="956" y="1050">240</text>
<text class="ng" x="977" y="1323">230</text><text class="nb" x="991" y="1389">250</text><text class="ng" x="1011" y="1660">240</text><text class="nb" x="1016" y="1729">260</text>
<text class="ng" x="1072" y="1759">250</text><text class="nb" x="1068" y="1692">270</text><text class="ng" x="1050" y="1422">260</text><text class="nb" x="1048" y="1355">280</text>
<text class="ng" x="1028" y="1082">270</text><text class="nb" x="1027" y="1015">290</text><text class="ng" x="1013" y="745">280</text><text class="nb" x="1016" y="677">300</text>
<text class="ng" x="1223" y="778">290</text><text class="nb" x="1227" y="847">310</text><text class="nb" x="1247" y="1078">317</text><text class="ng" x="1247" y="1092">299</text>
</g>
<g id="labels">
<text class="sm" x="142" y="738">Ex 3</text>
<text class="sm" x="142" y="763">Ex 2</text>
<text class="sm" x="417" y="1181">Ex 4</text>
<text class="sm" x="417" y="1204">Ex 3</text>
<text class="sm" x="779" y="441">End of N-Ter</text>
<text class="sm" x="779" y="459">Domain</text>
<text class="sm" x="929" y="569">Beginning</text>
<text class="sm" x="929" y="588">of C-Ter</text>
<text class="sm" x="929" y="607">Domain</text>
<text class="ap" x="788" y="785">APOE2</text>
<text class="ap" x="577" y="1296" text-anchor="end">APOE4</text>
<text class="ab" x="399" y="958">a</text>
<text class="ab" x="683" y="1228">c</text>
<text class="ab" x="678" y="1538">b</text>
<text class="ab" x="1013" y="1538">d</text>
<text class="ab" x="1172" y="1738">e</text>
</g>
<g id="mutations">
<rect class="br" x="169.5" y="521.5" width="68" height="40"/>
<rect class="br" x="169.5" y="996.5" width="68" height="40"/>
<rect class="br" x="305.5" y="1064.5" width="70" height="40"/>
<rect class="br" x="371.5" y="1500.5" width="40" height="69"/>
<rect class="br" x="892.5" y="1099.5" width="71" height="40"/>
<rect class="br" x="-32.5" y="-20" width="65" height="40" transform="translate(980,1797) rotate(-34.4)"/>
<rect class="br" x="-33.5" y="-20.5" width="67" height="41" transform="translate(1003,1820) rotate(-51.5)"/>
<rect class="bp" x="305.5" y="419.5" width="70" height="41"/>
<rect class="bp" x="720.5" y="452.5" width="69" height="39"/>
<rect class="bp" x="719.5" y="1438.5" width="68" height="40"/>
<rect class="bp" x="648.5" y="1738.5" width="37" height="67"/>
<rect class="bp" x="1060.5" y="1402.5" width="67" height="39"/>
<rect class="bp" x="-19.5" y="-33.5" width="39" height="67" transform="translate(1033,66) rotate(36)"/>
<rect class="bp" x="-33" y="-20.5" width="66" height="41" transform="translate(745,440) rotate(-29.5)"/>
<text class="mr" x="85" y="515" text-anchor="middle">e5</text>
<line x1="70" y1="520" x2="100" y2="520" stroke="#f00" stroke-width="2.5"/>
<text class="mr" x="10" y="552">p.Glu21Lys</text>
<text class="mr" x="30" y="1027">p.Ala7Pro</text>
<text class="mr" x="213" y="1571">p.Gln64His</text>
<text class="mr rot" transform="translate(253,1170) rotate(-47.5)">p.Arg50His</text>
<text class="mr rot" transform="translate(853,1014) rotate(64)">p.Arg242Gln</text>
<text class="mr" x="780" y="1834">p.Glu262Lys</text>
<text class="mr" x="812" y="1873">p.Glu263Lys</text>
<text class="mr" x="728" y="1855" text-anchor="middle">e7</text>
<line x1="713" y1="1861" x2="743" y2="1861" stroke="#f00" stroke-width="2.5"/>
<path d="M784,1805 Q768,1805 768,1818 L768,1834 Q768,1845 752,1845 Q768,1845 768,1856 L768,1868 Q768,1879 784,1879" fill="none" stroke="#f00" stroke-width="4"/>
<text class="mp rot" transform="translate(430,360) rotate(-48)">p.Glu31Lys</text>
<text class="mp rot" transform="translate(860,378) rotate(-34)">p.Glu186Lys</text>
<text class="mp rot" transform="translate(853,1543) rotate(46)">p.Ala156Thr</text>
<text class="mp" x="1060" y="31">p.Gly206Asp</text>
<text class="mp" x="800" y="487">p.Arg185His</text>
<text class="mp" x="478" y="1797">p.Gly145Ser</text>
<text class="mp" x="1140" y="1437">p.Arg278His</text>
</g>
<g id="legend">
<rect x="61" y="1598" width="305" height="125" rx="24" fill="#f0f0f0"/>
<rect x="83" y="1611" width="69" height="39" fill="none" stroke="#f65f5f" stroke-width="6"/>
<rect x="83" y="1668" width="69" height="40" fill="none" stroke="#f98af9" stroke-width="6"/>
<text x="163" y="1642" font-family="Liberation Serif, Times New Roman, serif" font-size="27" fill="#111">ToMMo &amp; NIG</text>
<text x="163" y="1698" font-family="Liberation Serif, Times New Roman, serif" font-size="27" fill="#111">ToMMo</text>
</g>
<g id="notes">
<rect x="60" y="1732" width="408" height="149" fill="#f0f0f0"/>
<text class="nt" x="80" y="1763"><tspan font-weight="bold">a</tspan> <tspan class="arw">→</tspan> rs769452&#160; (Pittsburgh: p.L46P)</text>
<text class="nt" x="80" y="1787"><tspan font-weight="bold">b</tspan> <tspan class="arw">→</tspan> rs121918393 (Christchurch: p.R154S)</text>
<text class="nt" x="80" y="1814"><tspan font-weight="bold">c</tspan> <tspan class="arw">→</tspan> rs769455 (no alias: p.R163C)</text>
<text class="nt" x="80" y="1839"><tspan font-weight="bold">d</tspan> <tspan class="arw">→</tspan> rs199768005 (Jacksonville: p.V254E)</text>
<text class="nt" x="80" y="1865"><tspan font-weight="bold">e</tspan> <tspan class="arw">→</tspan> rs267606661 (no alias: p.R269G)</text>
</g>
</svg>
